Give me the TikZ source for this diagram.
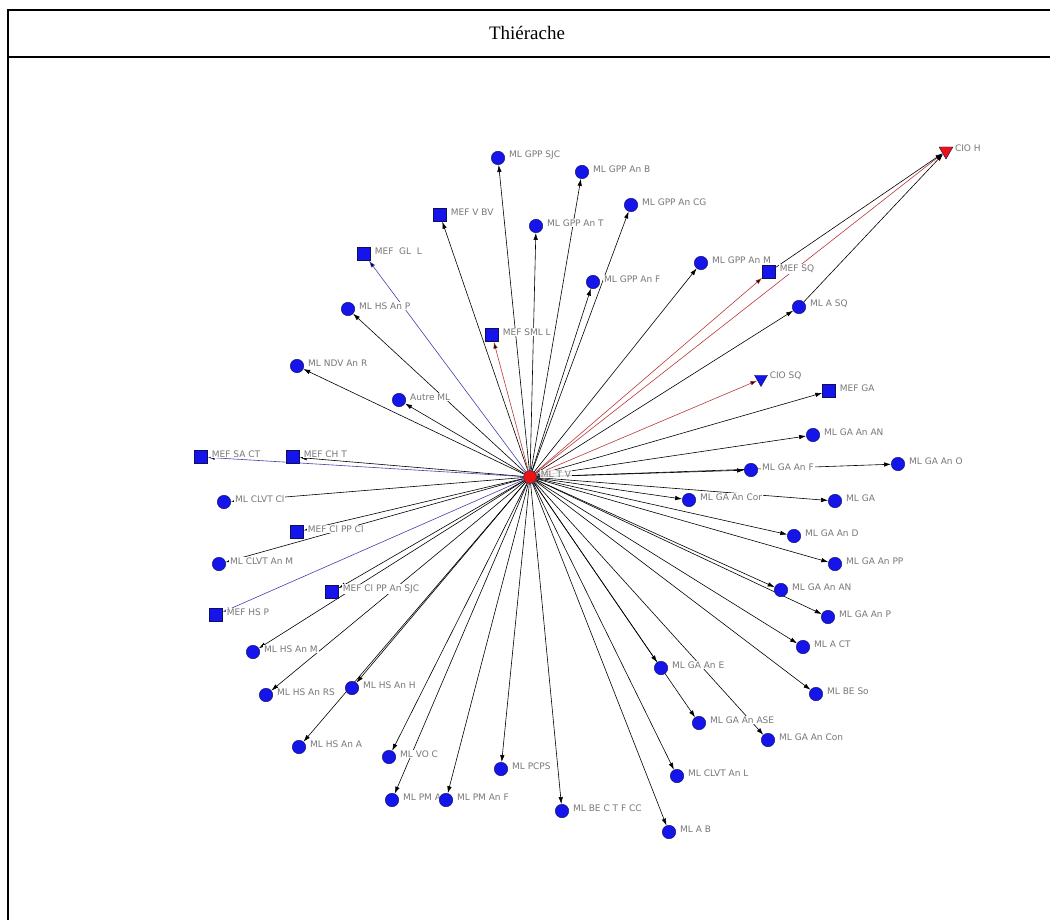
\documentclass[tikz,border=0pt]{standalone}
\usepackage{fontspec}
\setmainfont{Liberation Serif}
\newfontfamily\netfont{DejaVu Sans}
\usetikzlibrary{arrows.meta, shapes.geometric, backgrounds}

\definecolor{nodeblue}{RGB}{20,20,235}
\definecolor{nodeline}{RGB}{15,15,90}
\definecolor{nodered}{RGB}{235,20,20}
\definecolor{edgered}{RGB}{185,55,55}
\definecolor{edgeblue}{RGB}{65,65,170}
\definecolor{labelgrey}{RGB}{120,120,120}

\begin{document}
\begin{tikzpicture}[x=1pt, y=-1pt, >={Latex[length=7pt,width=4.5pt]},
                    ml/.style={circle, draw=nodeline, fill=nodeblue, minimum size=13.5pt, inner sep=0pt},
                    mef/.style={rectangle, draw=nodeline, fill=nodeblue, minimum size=13pt, inner sep=0pt},
                    cio/.style={regular polygon, regular polygon sides=3, shape border rotate=180, draw=nodeline, fill=nodeblue, minimum size=16pt, inner sep=0pt},
                    lbl/.style={font=\netfont\fontsize{9}{10}\selectfont, text=labelgrey, fill=white, inner sep=1pt, label distance=3pt, yshift=3pt},
                    link/.style={draw, ->, line width=0.6pt}]
                        \useasboundingbox (0,0) rectangle (1050,920);
                        % frame and title
                        \draw[line width=2pt] (8,920) -- (8,10) -- (1051,10);
                        \draw[line width=2pt] (8,57) -- (1051,57);
                        \node[font=\fontsize{19}{22}\selectfont] (title) at (527,33) {Thiérache};

                        % centre
                        \node[ml, fill=nodered, minimum size=13pt, label={[lbl, fill opacity=0.8, text opacity=1]right:ML T V}] (tv) at (530,477) {};

                        % upper half
                        \node[ml, label={[lbl]right:ML GPP SJC}] (gppsjc) at (498,158) {};
                        \node[ml, label={[lbl]right:ML GPP An B}] (gppanb) at (582,172) {};
                        \node[ml, label={[lbl]right:ML GPP An CG}] (gppancg) at (631,205) {};
                        \node[mef, label={[lbl]right:MEF V BV}] (mefvbv) at (440,215) {};
                        \node[ml, label={[lbl]right:ML GPP An T}] (gppant) at (536,226) {};
                        \node[mef, label={[lbl]right:MEF\ \ GL\ \ L}] (mefgll) at (364,254) {};
                        \node[ml, label={[lbl]right:ML GPP An M}] (gppanm) at (701,263) {};
                        \node[mef, label={[lbl]right:MEF SQ}] (mefsq) at (769,272) {};
                        \node[ml, label={[lbl]right:ML GPP An F}] (gppanf) at (593,282) {};
                        \node[ml, label={[lbl]right:ML HS An P}] (hsanp) at (348,309) {};
                        \node[ml, label={[lbl]right:ML A SQ}] (asq) at (799,307) {};
                        \node[mef, label={[lbl]right:MEF SML L}] (mefsmll) at (492,335) {};
                        \node[ml, label={[lbl]right:ML NDV An R}] (ndvanr) at (297,366) {};
                        \node[cio, minimum size=15pt, label={[lbl]right:CIO SQ}] (ciosq) at (761,379) {};
                        \node[mef, label={[lbl]right:MEF GA}] (mefga) at (829,391) {};
                        \node[ml, label={[lbl]right:Autre ML}] (autreml) at (399,400) {};
                        \node[ml, label={[lbl]right:ML GA An AN}] (gaanan) at (813,435) {};
                        \node[mef, label={[lbl]right:MEF SA CT}] (mefsact) at (201,457) {};
                        \node[mef, label={[lbl]right:MEF CH T}] (mefcht) at (293,457) {};
                        \node[ml, label={[lbl]right:ML GA An O}] (gaano) at (898,464) {};
                        \node[ml, label={[lbl]right:ML GA An F}] (gaanf) at (751,470) {};
                        \node[cio, fill=nodered, label={[lbl]right:CIO H}] (cioh) at (946,151) {};

                        % lower half
                        \node[ml, label={[lbl]right:ML CLVT Cl}] (clvtcl) at (224,502) {};
                        \node[ml, label={[lbl]right:ML GA An Cor}] (gaancor) at (689,500) {};
                        \node[ml, label={[lbl]right:ML GA}] (ga) at (835,501) {};
                        \node[mef, label={[lbl]right:MEF Cl PP Cl}] (mefclppcl) at (297,532) {};
                        \node[ml, label={[lbl]right:ML GA An D}] (gaand) at (794,536) {};
                        \node[ml, label={[lbl]right:ML CLVT An M}] (clvtanm) at (219,564) {};
                        \node[ml, label={[lbl]right:ML GA An PP}] (gaanpp) at (835,564) {};
                        \node[ml, label={[lbl]right:ML GA An AN}] (gaananb) at (781,590) {};
                        \node[mef, label={[lbl]right:MEF Cl PP An SJC}] (mefclppansjc) at (332,592) {};
                        \node[mef, label={[lbl]right:MEF HS P}] (mefhsp) at (216,615) {};
                        \node[ml, label={[lbl]right:ML GA An P}] (gaanp) at (828,617) {};
                        \node[ml, label={[lbl]right:ML HS An M}] (hsanm) at (253,652) {};
                        \node[ml, label={[lbl]right:ML A CT}] (act) at (803,647) {};
                        \node[ml, label={[lbl]right:ML HS An H}] (hsanh) at (352,688) {};
                        \node[ml, label={[lbl]right:ML HS An RS}] (hsanrs) at (266,695) {};
                        \node[ml, label={[lbl]right:ML BE So}] (beso) at (816,694) {};
                        \node[ml, label={[lbl]right:ML GA An E}] (gaane) at (661,668) {};
                        \node[ml, label={[lbl]right:ML GA An ASE}] (gaanase) at (699,723) {};
                        \node[ml, label={[lbl]right:ML GA An Con}] (gaancon) at (768,740) {};
                        \node[ml, label={[lbl]right:ML HS An A}] (hsana) at (299,747) {};
                        \node[ml, label={[lbl]right:ML VO C}] (voc) at (389,757) {};
                        \node[ml, label={[lbl]right:ML PCPS}] (pcps) at (501,769) {};
                        \node[ml, label={[lbl]right:ML CLVT An L}] (clvtanl) at (677,776) {};
                        \node[ml, label={[lbl]right:ML PM A}] (pma) at (392,800) {};
                        \node[ml, label={[lbl]right:ML PM An F}] (pmanf) at (446,800) {};
                        \node[ml, label={[lbl]right:ML BE C T F CC}] (bectfcc) at (562,811) {};
                        \node[ml, label={[lbl]right:ML A B}] (ab) at (669,832) {};

                        \begin{scope}[on background layer]
                            \path[link] (tv) edge (gppsjc) edge (gppanb) edge (gppancg) edge (mefvbv)
                                             edge (gppant) edge (gppanm) edge (gppanf) edge (hsanp)
                                             edge (asq) edge (ndvanr) edge (mefga) edge (autreml)
                                             edge (gaanan) edge (mefcht) edge (gaano) edge (gaanf)
                                             edge (clvtcl) edge (gaancor) edge (ga) edge (mefclppcl)
                                             edge (gaand) edge (clvtanm) edge (gaanpp) edge (gaananb)
                                             edge (mefclppansjc) edge (gaanp) edge (hsanm) edge (act)
                                             edge (hsanh) edge (hsanrs) edge (beso) edge (gaane)
                                             edge (gaanase) edge (gaancon) edge (hsana) edge (voc)
                                             edge (pcps) edge (clvtanl) edge (pma) edge (pmanf)
                                             edge (bectfcc) edge (ab);
                            \path[link, draw=edgered] (tv) edge (mefsmll) edge (mefsq) edge (cioh) edge (ciosq);
                            \path[link, draw=edgeblue] (tv) edge (mefgll) edge (mefsact) edge (mefhsp);
                            \path[link] (mefsq) edge (cioh);
                            \path[link] (asq) edge (cioh);
                        \end{scope}
                    \end{tikzpicture}
\end{document}
